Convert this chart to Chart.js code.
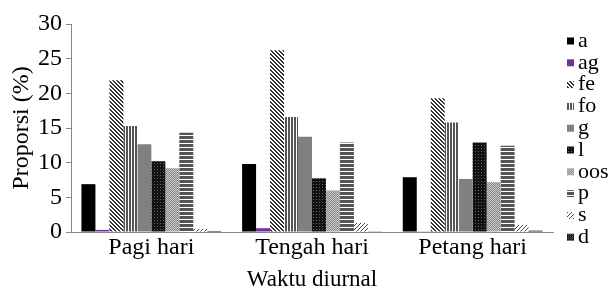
<!DOCTYPE html>
<html>
<head>
<meta charset="utf-8">
<script src="https://cdn.jsdelivr.net/npm/chart.js@4"></script>
<style>
  html, body { margin: 0; padding: 0; background: #fff; }
  #wrap { width: 613px; height: 293px; }
</style>
</head>
<body>
<div id="wrap"><canvas id="myChart" width="613" height="293"></canvas></div>
<script>
// data
const categories = ['Pagi hari', 'Tengah hari', 'Petang hari'];
const seriesNames = ['a', 'ag', 'fe', 'fo', 'g', 'l', 'oos', 'p', 's', 'd'];
const valA   = [6.9, 9.8, 7.9];
const valAg  = [0.3, 0.55, 0.1];
const valFe  = [21.9, 26.2, 19.3];
const valFo  = [15.3, 16.6, 15.8];
const valG   = [12.65, 13.75, 7.65];
const valL   = [10.2, 7.75, 12.9];
const valOos = [9.2, 6.0, 7.2];
const valP   = [14.3, 12.9, 12.45];
const valS   = [0.45, 1.3, 1.0];
const valD   = [0.15, 0.1, 0.2];
const yTicks = [0, 5, 10, 15, 20, 25, 30];

const FONT = '"Liberation Serif", "Times New Roman", serif';

// patterns
function makePattern(w, h, draw) {
  const c = document.createElement('canvas');
  c.width = w; c.height = h;
  const x = c.getContext('2d');
  draw(x);
  return x.createPattern(c, 'repeat');
}
const patFe = makePattern(4, 4, x => {
  x.fillStyle = '#fff'; x.fillRect(0, 0, 4, 4);
  x.fillStyle = '#333';
  for (let i = 0; i < 4; i++) { x.fillRect(i, i, 1, 1); x.fillRect((i + 1) % 4, i, 1, 1); }
});
const patFo = makePattern(3, 1, x => {
  x.fillStyle = '#555'; x.fillRect(0, 0, 2, 1);
  x.fillStyle = '#fff'; x.fillRect(2, 0, 1, 1);
});
const patL = makePattern(3, 3, x => {
  x.fillStyle = '#111'; x.fillRect(0, 0, 3, 3);
  x.fillStyle = '#666'; x.fillRect(1, 1, 1, 1);
});
const patOos = makePattern(2, 2, x => {
  x.fillStyle = '#8a8a8a'; x.fillRect(0, 0, 2, 2);
  x.fillStyle = '#c8c8c8'; x.fillRect(0, 0, 1, 1); x.fillRect(1, 1, 1, 1);
});
const patP = makePattern(1, 4, x => {
  x.fillStyle = '#555'; x.fillRect(0, 0, 1, 3);
  x.fillStyle = '#fff'; x.fillRect(0, 3, 1, 1);
});
const patS = makePattern(4, 4, x => {
  x.fillStyle = '#fff'; x.fillRect(0, 0, 4, 4);
  x.fillStyle = '#444';
  for (let i = 0; i < 4; i++) { x.fillRect(3 - i, i, 1, 1); }
});
const patD = makePattern(2, 2, x => {
  x.fillStyle = '#222'; x.fillRect(0, 0, 2, 2);
  x.fillStyle = '#555'; x.fillRect(0, 0, 1, 1);
});

const seriesValues = [valA, valAg, valFe, valFo, valG, valL, valOos, valP, valS, valD];
const seriesFills = ['#000000', '#7030a0', patFe, patFo, '#808080', patL, patOos, patP, patS, patD];

const data = {
  labels: categories,
  datasets: seriesNames.map((name, i) => ({
    label: name,
    data: seriesValues[i],
    backgroundColor: seriesFills[i],
    borderWidth: 0,
    categoryPercentage: 0.87,
    barPercentage: 1.0
  }))
};

// legend drawn on the right side
const sideLegend = {
  id: 'sideLegend',
  afterDraw(chart) {
    const { ctx } = chart;
    ctx.save();
    ctx.font = '22px ' + FONT;
    ctx.textBaseline = 'middle';
    ctx.textAlign = 'left';
    chart.data.datasets.forEach((ds, i) => {
      const cy = 41 + i * 21.8;
      ctx.fillStyle = ds.backgroundColor;
      ctx.fillRect(567, cy - 3.5, 7, 7);
      ctx.fillStyle = '#000';
      ctx.fillText(ds.label, 578, cy);
    });
    ctx.restore();
  }
};

const config = {
  type: 'bar',
  data,
  options: {
    responsive: false,
    animation: false,
    layout: { padding: { top: 24, right: 60, left: 0, bottom: 0 } },
    plugins: {
      legend: { display: false },
      tooltip: { enabled: false }
    },
    scales: {
      x: {
        grid: { display: false, drawTicks: false },
        border: { display: true, color: '#888', width: 1 },
        ticks: { color: '#000', font: { family: FONT, size: 24 }, padding: 1, maxRotation: 0 },
        title: {
          display: true, text: 'Waktu diurnal', color: '#000',
          font: { family: FONT, size: 23, lineHeight: 1 },
          padding: { top: 0, bottom: 2 }
        },
        afterFit(s) { s.height = 61; }
      },
      y: {
        min: 0, max: 30,
        afterBuildTicks(s) { s.ticks = yTicks.map(v => ({ value: v })); },
        grid: { drawOnChartArea: false, drawTicks: true, tickLength: 5, color: '#888' },
        border: { display: true, color: '#888', width: 1 },
        ticks: { color: '#000', font: { family: FONT, size: 24 }, padding: 4 },
        title: {
          display: true, text: 'Proporsi (%)', color: '#000',
          font: { family: FONT, size: 24, lineHeight: 1 },
          padding: { top: 10, bottom: 0 }
        },
        afterFit(s) { s.width = 71; }
      }
    }
  },
  plugins: [sideLegend]
};

const myChart = new Chart(document.getElementById('myChart'), config);
</script>
</body>
</html>
